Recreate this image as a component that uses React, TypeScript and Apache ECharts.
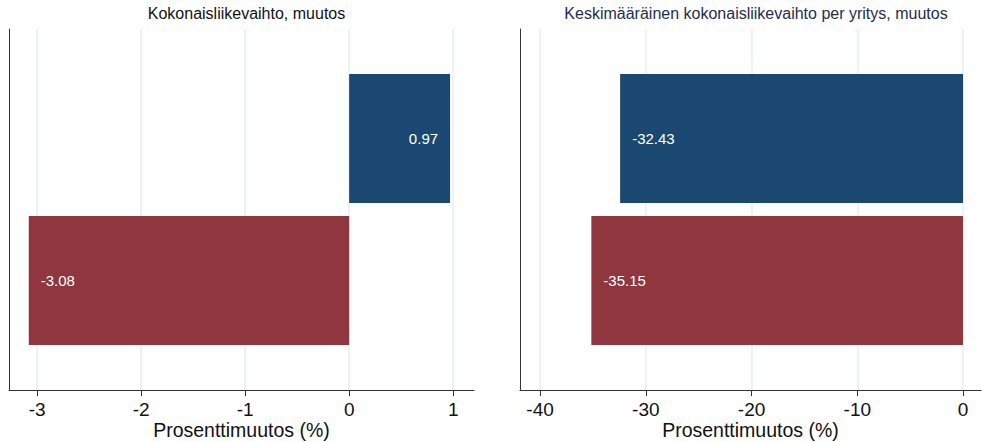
import React, { useEffect, useRef } from "react";
import * as echarts from "echarts";

const categories = ["Muutos"];
const panelTitles = [
  "Kokonaisliikevaihto, muutos",
  "Keskimääräinen kokonaisliikevaihto per yritys, muutos",
];
const seriesNames = ["Sarja 1", "Sarja 2"];
const totalChange = [0.97, -3.08];
const averageChange = [-32.43, -35.15];
const leftTicks = [-3, -2, -1, 0, 1];
const rightTicks = [-40, -30, -20, -10, 0];
const axisName = "Prosenttimuutos (%)";

const colors = ["#1b4870", "#8f363e"];
const FONT = "Arial, 'Liberation Sans', sans-serif";

export default function App() {
  const ref = useRef<HTMLDivElement>(null);
  useEffect(() => {
    if (!ref.current) return;
    const chart = echarts.init(ref.current, undefined, { renderer: "svg" });

    const grids = [
      { left: 9, right: 508, top: 29, bottom: 52, containLabel: false, outerBoundsMode: "none" },
      { left: 520, right: 1, top: 29, bottom: 52, containLabel: false, outerBoundsMode: "none" },
    ];
    const ranges = [
      { min: -3.27, max: 1.2, ticks: leftTicks },
      { min: -41.9, max: 1.7, ticks: rightTicks },
    ];
    const values = [totalChange, averageChange];

    const xAxes = ranges.map((r, i) => ({
      type: "value",
      gridIndex: i,
      min: r.min,
      max: r.max,
      name: axisName,
      nameLocation: "middle",
      nameGap: 30,
      nameMoveOverlap: false,
      nameTextStyle: { fontSize: 19.5, lineHeight: 20, color: "#111", fontFamily: FONT },
      axisLine: { show: true, onZero: false, lineStyle: { color: "#333", width: 1 } },
      axisTick: { show: true, length: 6, lineStyle: { color: "#333" }, customValues: r.ticks },
      axisLabel: { fontSize: 19, color: "#111", margin: 10, fontFamily: FONT, customValues: r.ticks },
      splitLine: { show: false },
    }));

    const yAxes = [0, 1].map((i) => ({
      type: "category",
      gridIndex: i,
      data: categories,
      axisLine: { show: true, onZero: false, lineStyle: { color: "#333", width: 1 } },
      axisTick: { show: false },
      axisLabel: { show: false },
      splitLine: { show: false },
    }));

    const series: any[] = [];
    [0, 1].forEach((g) => {
      [0, 1].forEach((s) => {
        const v = values[g][s];
        series.push({
          type: "bar",
          name: seriesNames[s],
          xAxisIndex: g,
          yAxisIndex: g,
          data: [v],
          barWidth: 129,
          barGap: "10%",
          itemStyle: { color: colors[s] },
          label: {
            show: true,
            position: v >= 0 ? "insideRight" : "insideLeft",
            distance: 12,
            color: "#fff",
            fontSize: 15,
            fontFamily: FONT,
            formatter: (p: any) => String(p.value),
          },
          markLine:
            s === 0
              ? {
                  silent: true,
                  symbol: "none",
                  label: { show: false },
                  z: 0,
                  lineStyle: { color: "#e7eef4", width: 1.5, type: "solid" },
                  data: ranges[g].ticks.map((t) => ({ xAxis: t })),
                }
              : undefined,
        });
      });
    });

    chart.setOption({
      animation: false,
      backgroundColor: "#fff",
      textStyle: { fontFamily: FONT },
      title: [
        {
          text: panelTitles[0],
          left: 241.5,
          textAlign: "center",
          top: 0,
          textStyle: { fontSize: 16, fontWeight: "normal", color: "#111", fontFamily: FONT },
        },
        {
          text: panelTitles[1],
          left: 751,
          textAlign: "center",
          top: 0,
          textStyle: { fontSize: 16, fontWeight: "normal", color: "#1f2d4e", fontFamily: FONT },
        },
      ],
      grid: grids,
      xAxis: xAxes,
      yAxis: yAxes,
      series,
    });
    return () => chart.dispose();
  }, []);
  return (
    <div
      ref={ref}
      style={{ position: "fixed", left: 0, top: 0, width: 982, height: 442 }}
    />
  );
}
